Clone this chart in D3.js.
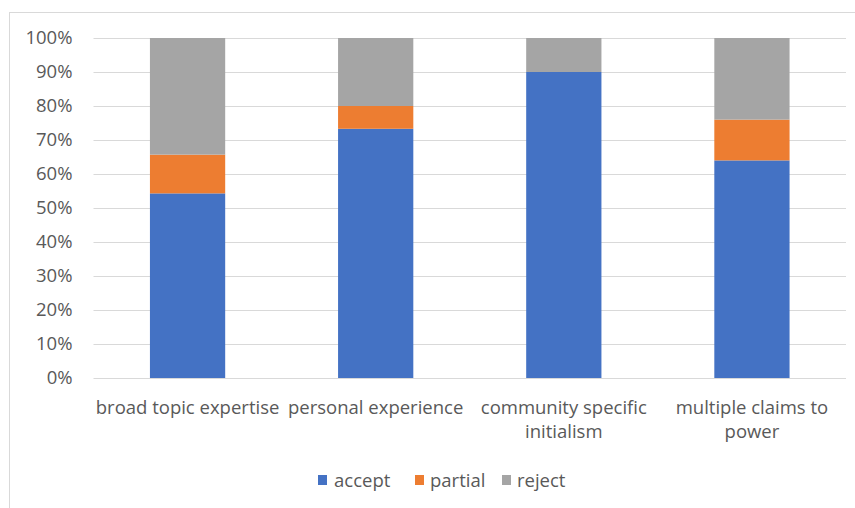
<!DOCTYPE html>
<html>
<head>
<meta charset="utf-8">
<script src="https://cdn.jsdelivr.net/npm/d3@7"></script>
<style>
  html, body { margin: 0; padding: 0; background: #fff; }
  svg { display: block; font-family: "Open Sans", Lato, sans-serif; }
</style>
</head>
<body>
<svg id="chart" width="855" height="508"></svg>
<script>
// Share of responses per claim type (percent of each column)
const categories = [
  ["broad topic expertise"],
  ["personal experience"],
  ["community specific", "initialism"],
  ["multiple claims to", "power"]
];
const seriesNames = ["accept", "partial", "reject"];
const accept  = [54.3, 73.3, 90.0, 64.0];
const partial = [11.4, 6.7, 0.0, 12.0];
const reject  = [34.3, 20.0, 10.0, 24.0];
const colors = ["#4472c4", "#ed7d31", "#a5a5a5"];
const yTicks = [0, 10, 20, 30, 40, 50, 60, 70, 80, 90, 100];

const svg = d3.select("#chart");
const W = 855, H = 508;
const FONT = "18.5px";

// outer chart frame
svg.append("rect")
  .attr("x", 9.5).attr("y", 12.5)
  .attr("width", W).attr("height", H)
  .attr("fill", "#fff").attr("stroke", "#d9d9d9");

const plot = { left: 93.5, right: 846, top: 38, bottom: 378 };

const x = d3.scaleBand()
  .domain(d3.range(categories.length))
  .range([plot.left, plot.right])
  .padding(0);
const barW = x.bandwidth() * 0.4;

const y = d3.scaleLinear().domain([0, 100]).range([plot.bottom, plot.top]);

// gridlines
svg.append("g")
  .selectAll("line")
  .data(yTicks)
  .join("line")
  .attr("x1", plot.left).attr("x2", plot.right)
  .attr("y1", d => Math.round(y(d)) + 0.5)
  .attr("y2", d => Math.round(y(d)) + 0.5)
  .attr("stroke", "#d9d9d9").attr("stroke-width", 1);

// y tick labels
const yAxis = d3.axisLeft(y).tickValues(yTicks).tickFormat(d => d + "%").tickSize(0).tickPadding(0);
const yg = svg.append("g").attr("transform", `translate(${plot.left - 21},0)`).call(yAxis);
yg.select(".domain").remove();
yg.selectAll("text")
  .attr("fill", "#595959")
  .style("font-size", FONT)
  .style("font-family", "'Open Sans', Lato, sans-serif");

// stacked bars
const rows = categories.map((c, i) => ({ i, accept: accept[i], partial: partial[i], reject: reject[i] }));
const stacked = d3.stack().keys(seriesNames)(rows);

svg.append("g")
  .selectAll("g")
  .data(stacked)
  .join("g")
  .attr("fill", (d, k) => colors[k])
  .selectAll("rect")
  .data(d => d)
  .join("rect")
  .attr("x", d => x(d.data.i) + (x.bandwidth() - barW) / 2)
  .attr("y", d => y(d[1]))
  .attr("width", barW)
  .attr("height", d => y(d[0]) - y(d[1]));

// category labels
const xg = svg.append("g");
categories.forEach((lines, i) => {
  const t = xg.append("text")
    .attr("x", x(i) + x.bandwidth() / 2)
    .attr("y", 414)
    .attr("text-anchor", "middle")
    .attr("fill", "#595959")
    .style("font-size", FONT);
  lines.forEach((ln, j) => {
    t.append("tspan")
      .attr("x", x(i) + x.bandwidth() / 2)
      .attr("dy", j === 0 ? 0 : 24)
      .text(ln);
  });
});

// legend
const legendSwatchX = [318, 415, 502];
const legendTextX = [334, 430, 517];
const lg = svg.append("g");
seriesNames.forEach((name, k) => {
  lg.append("rect")
    .attr("x", legendSwatchX[k]).attr("y", 475)
    .attr("width", 9).attr("height", 10)
    .attr("fill", colors[k]);
  lg.append("text")
    .attr("x", legendTextX[k]).attr("y", 487)
    .attr("fill", "#595959")
    .style("font-size", FONT)
    .text(name);
});
</script>
</body>
</html>
